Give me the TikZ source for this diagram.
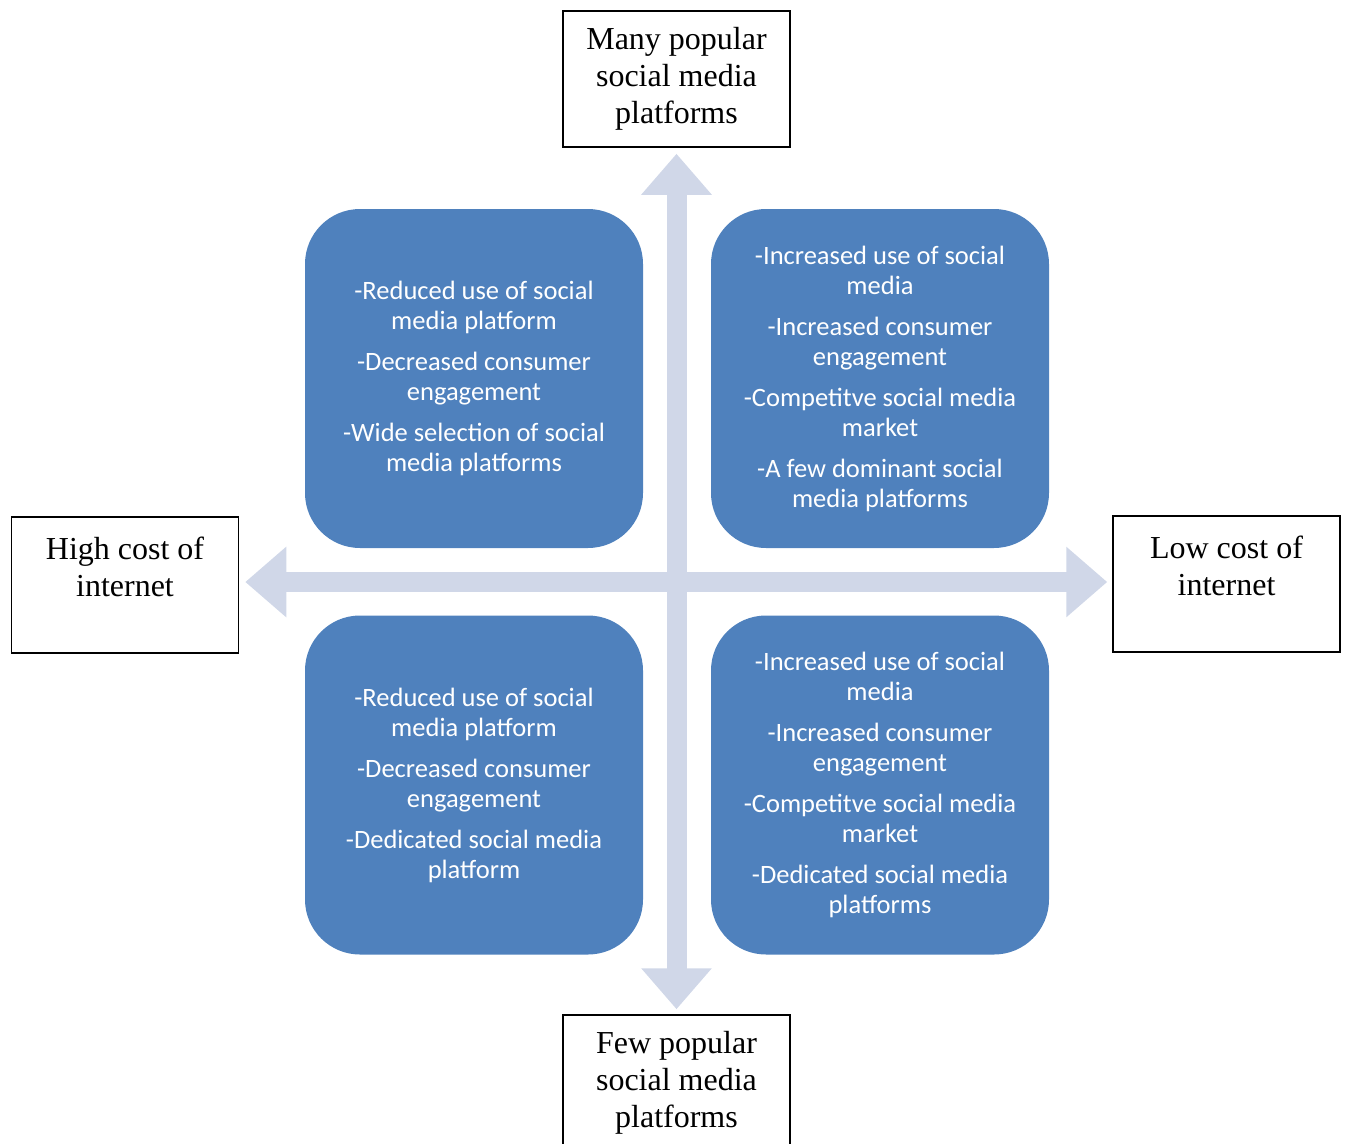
\documentclass[tikz,border=0pt]{standalone}
\usepackage{fontspec}
\setmainfont{Liberation Serif}
\newfontfamily\calfont{Carlito}
\usetikzlibrary{arrows.meta,positioning}
\definecolor{quadblue}{HTML}{4F81BD}
\definecolor{axisgray}{HTML}{D0D7E8}
\tikzset{
  lbl/.style={draw, rectangle, line width=1.5pt, minimum width=227pt, minimum height=136pt, align=center, inner sep=0pt, font=\fontsize{32}{37}\selectfont},
  quad/.style={fill=quadblue, rounded corners=55pt, minimum width=338pt, minimum height=339pt, align=center, text=white, inner sep=0pt, font=\calfont\fontsize{26.5}{30}\selectfont},
  axis/.style={{Triangle[length=41pt,width=68pt]}-{Triangle[length=41pt,width=68pt]}, line width=20pt, draw=axisgray, shorten >=5pt, shorten <=6pt},
}
\begin{document}
\begin{tikzpicture}[x=1pt,y=-1pt]
\useasboundingbox (0,0) rectangle (1345,1144);
% axis labels
\node[lbl] (many) at (676.5,79) {Many popular\\social media\\platforms};
\node[lbl] (few) at (676.5,1083) {Few popular\\social media\\platforms};
\node[lbl] (high) at (125,585) {High cost of\\internet\\\mbox{}};
\node[lbl] (low) at (1226.5,584) {Low cost of\\internet\\\mbox{}};
\coordinate (ctr) at (677,582);
% axes
\draw[axis] (many.south) -- (few.north);
\draw[axis] (high.east |- ctr) -- (low.west |- ctr);
% quadrants
\node[quad] (q1) at (474,378.5) {-Reduced use of social\\media platform\\[11pt]-Decreased consumer\\engagement\\[11pt]-Wide selection of social\\media platforms};
\node[quad] (q2) at (880,378.5) {-Increased use of social\\media\\[11pt]-Increased consumer\\engagement\\[11pt]-Competitve social media\\market\\[11pt]-A few dominant social\\media platforms};
\node[quad] (q3) at (474,785) {-Reduced use of social\\media platform\\[11pt]-Decreased consumer\\engagement\\[11pt]-Dedicated social media\\platform};
\node[quad] (q4) at (880,785) {-Increased use of social\\media\\[11pt]-Increased consumer\\engagement\\[11pt]-Competitve social media\\market\\[11pt]-Dedicated social media\\platforms};
\end{tikzpicture}
\end{document}
